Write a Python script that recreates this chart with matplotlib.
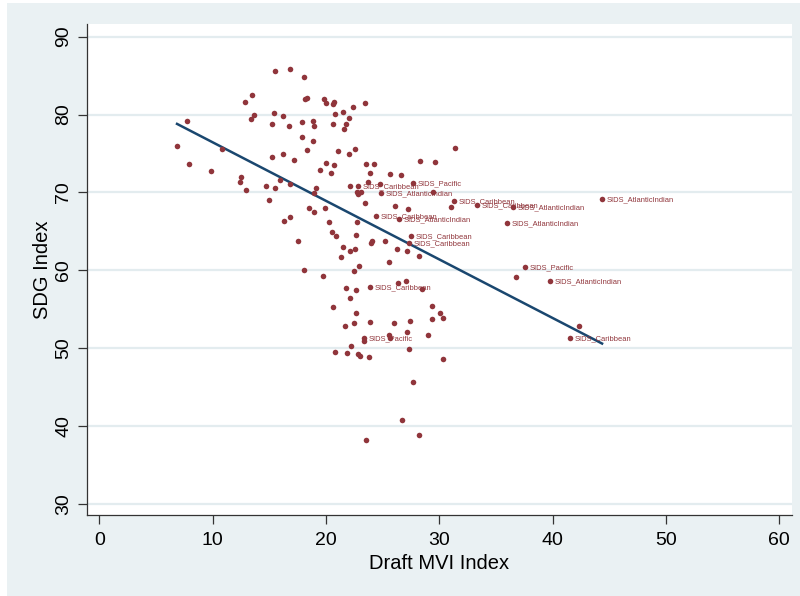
import matplotlib.pyplot as plt
from matplotlib.patches import Rectangle

# unlabelled countries: Draft MVI Index vs SDG Index
mvi_other = [6.86, 7.74, 7.92, 9.86, 10.83, 12.51, 12.42, 12.95, 12.86, 13.48,
             13.39, 13.65, 15.51, 16.83, 18.07, 18.16, 18.33, 19.83, 20.01, 20.63,
             20.71, 23.45, 22.39, 21.51, 20.80, 22.04, 21.77, 21.60, 20.63, 18.86,
             18.95, 17.89, 16.74, 16.21, 15.42, 15.24, 17.89, 18.86, 18.33, 21.07,
             22.57, 22.04, 16.21, 15.24, 17.18, 20.01, 20.71, 19.48, 20.45, 23.54,
             24.25, 23.89, 14.71, 15.51, 15.95, 16.83, 19.13, 18.95, 14.98, 22.13,
             22.74, 22.83, 23.10, 23.45, 18.51, 18.95, 19.92, 16.30, 16.83, 20.27,
             22.74, 20.54, 20.89, 22.66, 17.54, 21.51, 22.13, 22.57, 21.33, 24.07,
             23.98, 25.22, 26.27, 22.92, 22.48, 18.07, 19.74, 21.77, 22.66, 22.13,
             20.63, 22.66, 21.69, 22.48, 23.89, 23.36, 22.21, 20.80, 21.86, 22.83,
             23.01, 23.80, 23.54, 26.01, 27.42, 27.16, 29.01, 25.57, 25.66, 27.33,
             30.33, 29.36, 30.07, 30.33, 29.36, 26.36, 27.07, 28.48, 25.57, 28.22,
             27.16, 29.45, 26.10, 27.25, 31.04, 36.78, 42.34, 25.66, 26.63, 28.30,
             29.63, 31.39, 27.69, 26.72, 28.22, 24.77, 23.72]
sdg_other = [75.96, 79.17, 73.65, 72.75, 75.57, 71.98, 71.33, 70.31, 81.60, 82.50,
             79.42, 79.94, 85.58, 85.84, 84.81, 81.99, 82.12, 81.99, 81.48, 81.35,
             81.60, 81.48, 80.96, 80.32, 80.06, 79.55, 78.78, 78.14, 78.78, 79.17,
             78.52, 79.04, 78.52, 79.81, 80.19, 78.78, 77.11, 76.60, 75.44, 75.31,
             75.57, 74.93, 74.93, 74.54, 74.16, 73.77, 73.52, 72.88, 72.49, 73.65,
             73.65, 72.49, 70.82, 70.56, 71.59, 71.08, 70.56, 69.92, 69.02, 70.82,
             70.05, 69.79, 70.05, 68.64, 68.00, 67.48, 68.00, 66.33, 66.84, 66.20,
             66.20, 64.92, 64.40, 64.53, 63.76, 62.99, 62.48, 62.73, 61.71, 63.76,
             63.50, 63.76, 62.73, 60.55, 59.91, 60.04, 59.27, 57.73, 57.47, 56.44,
             55.29, 54.52, 52.85, 53.23, 53.36, 50.92, 50.28, 49.51, 49.38, 49.26,
             49.00, 48.87, 38.22, 53.23, 53.49, 52.08, 51.69, 51.69, 51.31, 49.90,
             48.61, 55.42, 54.52, 53.88, 53.75, 58.37, 58.63, 57.60, 61.07, 61.84,
             62.48, 70.05, 68.25, 67.87, 68.13, 59.14, 52.85, 72.36, 72.23, 74.03,
             73.90, 75.70, 45.66, 40.78, 38.86, 71.08, 71.33]

# small island developing states, labelled by region
sids_mvi = [22.83, 24.42, 23.89, 23.36, 27.33, 27.51, 27.69, 24.86, 31.31,
            33.34, 36.51, 44.37, 35.98, 26.45, 37.57, 39.78, 41.54]
sids_sdg = [70.82, 66.97, 57.86, 51.31, 63.50, 64.40, 71.21, 69.92, 68.90,
            68.38, 68.13, 69.15, 66.07, 66.59, 60.42, 58.63, 51.31]
sids_group = ["SIDS_Caribbean", "SIDS_Caribbean", "SIDS_Caribbean", "SIDS_Pacific",
              "SIDS_Caribbean", "SIDS_Caribbean", "SIDS_Pacific", "SIDS_AtlanticIndian",
              "SIDS_Caribbean", "SIDS_Caribbean", "SIDS_AtlanticIndian",
              "SIDS_AtlanticIndian", "SIDS_AtlanticIndian", "SIDS_AtlanticIndian",
              "SIDS_Pacific", "SIDS_AtlanticIndian", "SIDS_Caribbean"]

# fitted line end points
fit_x = [6.86, 44.37]
fit_y = [78.8, 50.6]

x_ticks = [0, 10, 20, 30, 40, 50, 60]
y_ticks = [30, 40, 50, 60, 70, 80, 90]

maroon = "#90353B"
navy = "#1A476F"
bg = "#EAF1F3"

plt.rcParams["font.family"] = ["Liberation Sans", "DejaVu Sans"]

fig = plt.figure(figsize=(8, 5.96), dpi=100)
fig.patch.set_facecolor("white")
fig.patches.append(Rectangle((7 / 800, 0), 1, 593 / 596, transform=fig.transFigure,
                             facecolor=bg, edgecolor="none", zorder=-5))

ax = fig.add_axes([0.1084, 0.1359, 0.8813, 0.8238])
ax.set_facecolor("white")

ax.plot(mvi_other, sdg_other, "o", color=maroon, ms=4, mew=0, zorder=3)
ax.plot(sids_mvi, sids_sdg, "o", color=maroon, ms=4, mew=0, zorder=3)
for x, y, g in zip(sids_mvi, sids_sdg, sids_group):
    ax.annotate(g, (x, y), xytext=(3.5, -0.5), textcoords="offset points",
                fontsize=5.4, color=maroon, va="center", ha="left", zorder=4)

ax.plot(fit_x, fit_y, color=navy, lw=1.8, zorder=2)

ax.set_xlim(-1.11, 61.11)
ax.set_ylim(28.59, 91.62)
ax.set_xticks(x_ticks)
ax.set_yticks(y_ticks)
ax.grid(axis="y", color="#E3ECEF", lw=1.6, zorder=0)
ax.set_axisbelow(True)

for s in ["top", "right"]:
    ax.spines[s].set_visible(False)
for s in ["left", "bottom"]:
    ax.spines[s].set_color("#333333")
    ax.spines[s].set_linewidth(0.9)

ax.tick_params(direction="out", length=6.5, width=0.9, color="#333333",
               labelsize=14, pad=4)
ax.tick_params(axis="x", pad=6)
plt.setp(ax.get_yticklabels(), rotation=90, va="center")

ax.set_xlabel("Draft MVI Index", fontsize=14.5, labelpad=3)
ax.set_ylabel("SDG Index", fontsize=14.5, labelpad=2)

fig.savefig("out.png", dpi=100)
